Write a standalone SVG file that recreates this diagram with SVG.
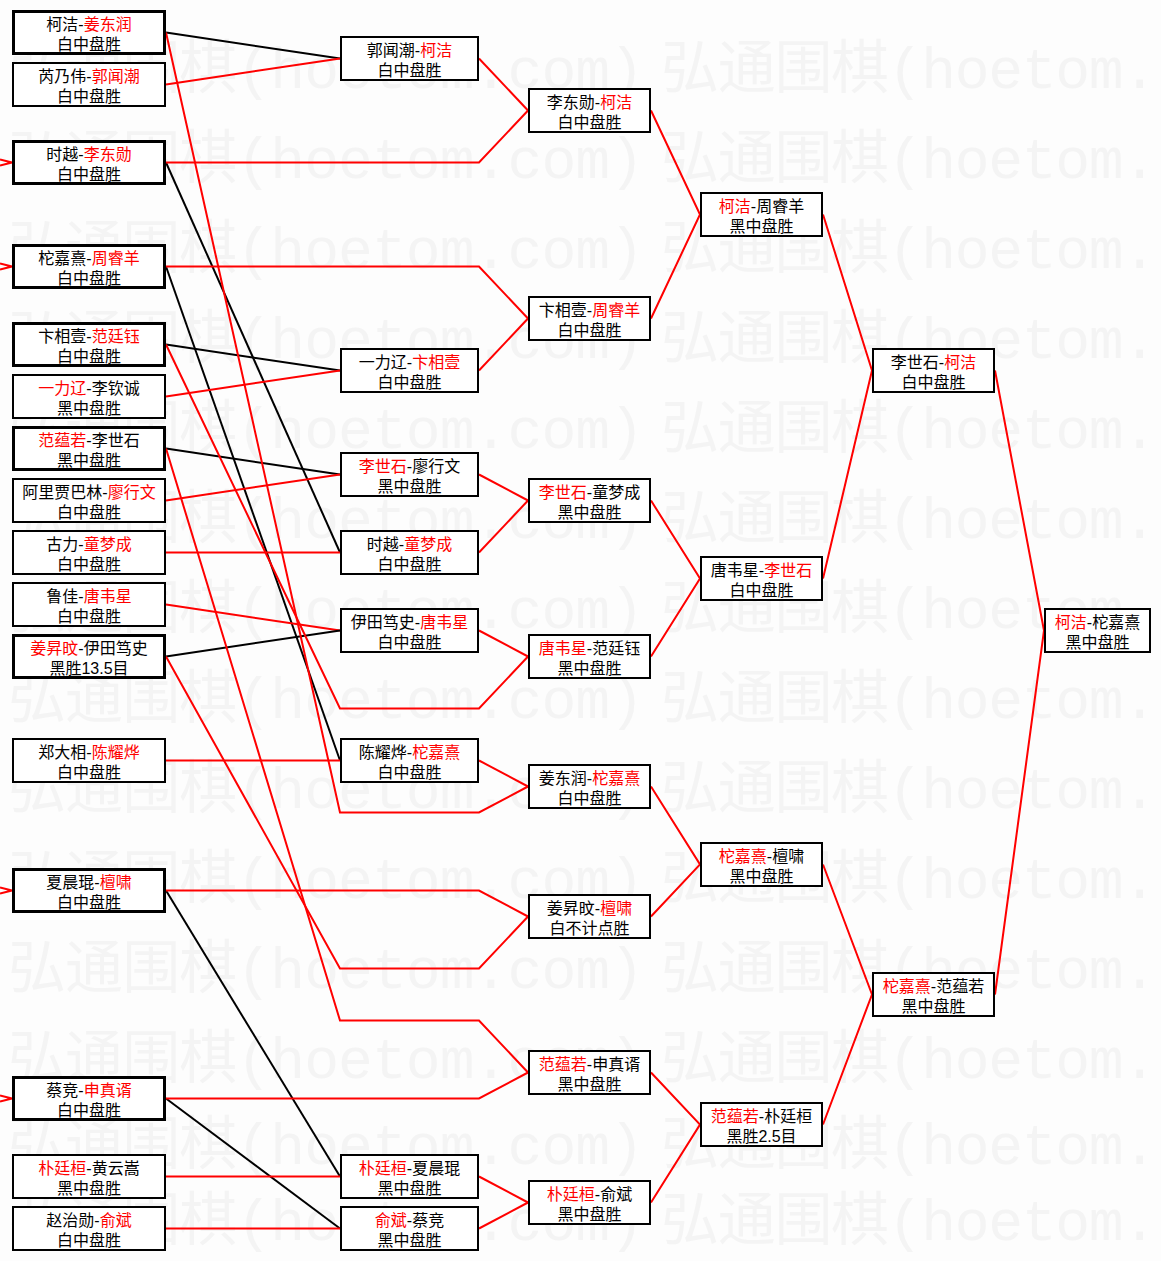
<svg xmlns="http://www.w3.org/2000/svg" width="1161" height="1261" viewBox="0 0 1161 1261">
<style>
.bg{fill:#fdfdfd}
.wm text{font-family:'Liberation Mono','Noto Sans CJK SC',monospace;font-size:58px;fill:#f4f4f4}
.n rect{fill:#fff;stroke:#000;stroke-width:2}
.n.t rect{stroke-width:3}
.n text{font-family:'Liberation Sans','Noto Sans CJK SC',sans-serif;font-size:16px;fill:#000;text-anchor:middle}
.n text tspan.r{fill:#f00}
.c path{fill:none;stroke-width:2}
.c .red{stroke:#f00}
.c .blk{stroke:#000}
</style>
<rect class="bg" x="0" y="0" width="1161" height="1261"/>
<g id="watermark" class="wm">
<text x="8" y="88" textLength="636">弘通围棋(hoetom.com)</text><text x="661" y="88" textLength="496">弘通围棋(hoetom.</text>
<text x="8" y="178" textLength="636">弘通围棋(hoetom.com)</text><text x="661" y="178" textLength="496">弘通围棋(hoetom.</text>
<text x="8" y="268" textLength="636">弘通围棋(hoetom.com)</text><text x="661" y="268" textLength="496">弘通围棋(hoetom.</text>
<text x="8" y="358" textLength="636">弘通围棋(hoetom.com)</text><text x="661" y="358" textLength="496">弘通围棋(hoetom.</text>
<text x="8" y="448" textLength="636">弘通围棋(hoetom.com)</text><text x="661" y="448" textLength="496">弘通围棋(hoetom.</text>
<text x="8" y="538" textLength="636">弘通围棋(hoetom.com)</text><text x="661" y="538" textLength="496">弘通围棋(hoetom.</text>
<text x="8" y="628" textLength="636">弘通围棋(hoetom.com)</text><text x="661" y="628" textLength="496">弘通围棋(hoetom.</text>
<text x="8" y="718" textLength="636">弘通围棋(hoetom.com)</text><text x="661" y="718" textLength="496">弘通围棋(hoetom.</text>
<text x="8" y="808" textLength="636">弘通围棋(hoetom.com)</text><text x="661" y="808" textLength="496">弘通围棋(hoetom.</text>
<text x="8" y="898" textLength="636">弘通围棋(hoetom.com)</text><text x="661" y="898" textLength="496">弘通围棋(hoetom.</text>
<text x="8" y="988" textLength="636">弘通围棋(hoetom.com)</text><text x="661" y="988" textLength="496">弘通围棋(hoetom.</text>
<text x="8" y="1078" textLength="636">弘通围棋(hoetom.com)</text><text x="661" y="1078" textLength="496">弘通围棋(hoetom.</text>
<text x="8" y="1164" textLength="636">弘通围棋(hoetom.com)</text><text x="661" y="1164" textLength="496">弘通围棋(hoetom.</text>
<text x="8" y="1240" textLength="636">弘通围棋(hoetom.com)</text><text x="661" y="1240" textLength="496">弘通围棋(hoetom.</text>
</g>
<g id="connectors" class="c">
<path class="red" d="M0 159.5L12 162.5M0 165.5L12 162.5"/>
<path class="red" d="M0 263.5L12 266.5M0 269.5L12 266.5"/>
<path class="red" d="M0 887.5L12 890.5M0 893.5L12 890.5"/>
<path class="red" d="M0 1095.5L12 1098.5M0 1101.5L12 1098.5"/>
<path class="blk" d="M166 32.5L340 58.5"/>
<path class="red" d="M166 84.5L340 58.5"/>
<path class="blk" d="M166 162.5L340 552.5"/>
<path class="blk" d="M166 266.5L340 760.5"/>
<path class="blk" d="M166 344.5L340 370.5"/>
<path class="red" d="M166 396.5L340 370.5"/>
<path class="blk" d="M166 448.5L340 474.5"/>
<path class="red" d="M166 500.5L340 474.5"/>
<path class="red" d="M166 552.5L340 552.5"/>
<path class="red" d="M166 604.5L340 630.5"/>
<path class="blk" d="M166 656.5L340 630.5"/>
<path class="red" d="M166 760.5L340 760.5"/>
<path class="blk" d="M166 890.5L340 1176.5"/>
<path class="blk" d="M166 1098.5L340 1228.5"/>
<path class="red" d="M166 1176.5L340 1176.5"/>
<path class="red" d="M166 1228.5L340 1228.5"/>
<path class="red" d="M166 32.5L340 812.5L479 812.5L528 786.5"/>
<path class="red" d="M166 162.5L479 162.5L528 110.5"/>
<path class="red" d="M166 266.5L479 266.5L528 318.5"/>
<path class="red" d="M166 344.5L340 708.5L479 708.5L528 656.5"/>
<path class="red" d="M166 448.5L340 1020.5L479 1020.5L528 1072.5"/>
<path class="red" d="M166 656.5L340 968.5L479 968.5L528 916.5"/>
<path class="red" d="M166 890.5L479 890.5L528 916.5"/>
<path class="red" d="M166 1098.5L479 1098.5L528 1072.5"/>
<path class="red" d="M479 58.5L528 110.5"/>
<path class="red" d="M479 370.5L528 318.5"/>
<path class="red" d="M479 474.5L528 500.5"/>
<path class="red" d="M479 552.5L528 500.5"/>
<path class="red" d="M479 630.5L528 656.5"/>
<path class="red" d="M479 760.5L528 786.5"/>
<path class="red" d="M479 1176.5L528 1202.5"/>
<path class="red" d="M479 1228.5L528 1202.5"/>
<path class="red" d="M651 110.5L700 214.5L651 318.5"/>
<path class="red" d="M651 500.5L700 578.5L651 656.5"/>
<path class="red" d="M651 786.5L700 864.5L651 916.5"/>
<path class="red" d="M651 1072.5L700 1124.5L651 1202.5"/>
<path class="red" d="M823 214.5L872 370.5L823 578.5"/>
<path class="red" d="M823 864.5L872 994.5L823 1124.5"/>
<path class="red" d="M995 370.5L1044 630.5L995 994.5"/>
</g>
<g id="r1-1" class="n t"><rect x="13.5" y="11.5" width="151" height="42"/><text x="89" y="30">柯洁-<tspan class="r">姜东润</tspan></text><text x="89" y="50">白中盘胜</text></g>
<g id="r1-2" class="n"><rect x="13" y="63" width="152" height="43"/><text x="89" y="82">芮乃伟-<tspan class="r">郭闻潮</tspan></text><text x="89" y="102">白中盘胜</text></g>
<g id="r1-3" class="n t"><rect x="13.5" y="141.5" width="151" height="42"/><text x="89" y="160">时越-<tspan class="r">李东勋</tspan></text><text x="89" y="180">白中盘胜</text></g>
<g id="r1-4" class="n t"><rect x="13.5" y="245.5" width="151" height="42"/><text x="89" y="264">柁嘉熹-<tspan class="r">周睿羊</tspan></text><text x="89" y="284">白中盘胜</text></g>
<g id="r1-5" class="n t"><rect x="13.5" y="323.5" width="151" height="42"/><text x="89" y="342">卞相壹-<tspan class="r">范廷钰</tspan></text><text x="89" y="362">白中盘胜</text></g>
<g id="r1-6" class="n"><rect x="13" y="375" width="152" height="43"/><text x="89" y="394"><tspan class="r">一力辽</tspan>-李钦诚</text><text x="89" y="414">黑中盘胜</text></g>
<g id="r1-7" class="n t"><rect x="13.5" y="427.5" width="151" height="42"/><text x="89" y="446"><tspan class="r">范蕴若</tspan>-李世石</text><text x="89" y="466">黑中盘胜</text></g>
<g id="r1-8" class="n"><rect x="13" y="479" width="152" height="43"/><text x="89" y="498">阿里贾巴林-<tspan class="r">廖行文</tspan></text><text x="89" y="518">白中盘胜</text></g>
<g id="r1-9" class="n"><rect x="13" y="531" width="152" height="43"/><text x="89" y="550">古力-<tspan class="r">童梦成</tspan></text><text x="89" y="570">白中盘胜</text></g>
<g id="r1-10" class="n"><rect x="13" y="583" width="152" height="43"/><text x="89" y="602">鲁佳-<tspan class="r">唐韦星</tspan></text><text x="89" y="622">白中盘胜</text></g>
<g id="r1-11" class="n t"><rect x="13.5" y="635.5" width="151" height="42"/><text x="89" y="654"><tspan class="r">姜昇旼</tspan>-伊田笃史</text><text x="89" y="674">黑胜13.5目</text></g>
<g id="r1-12" class="n"><rect x="13" y="739" width="152" height="43"/><text x="89" y="758">郑大相-<tspan class="r">陈耀烨</tspan></text><text x="89" y="778">白中盘胜</text></g>
<g id="r1-13" class="n t"><rect x="13.5" y="869.5" width="151" height="42"/><text x="89" y="888">夏晨琨-<tspan class="r">檀啸</tspan></text><text x="89" y="908">白中盘胜</text></g>
<g id="r1-14" class="n t"><rect x="13.5" y="1077.5" width="151" height="42"/><text x="89" y="1096">蔡竞-<tspan class="r">申真谞</tspan></text><text x="89" y="1116">白中盘胜</text></g>
<g id="r1-15" class="n"><rect x="13" y="1155" width="152" height="43"/><text x="89" y="1174"><tspan class="r">朴廷桓</tspan>-黄云嵩</text><text x="89" y="1194">黑中盘胜</text></g>
<g id="r1-16" class="n"><rect x="13" y="1207" width="152" height="43"/><text x="89" y="1226">赵治勋-<tspan class="r">俞斌</tspan></text><text x="89" y="1246">白中盘胜</text></g>
<g id="r2-1" class="n"><rect x="341" y="37" width="137" height="43"/><text x="409.5" y="56">郭闻潮-<tspan class="r">柯洁</tspan></text><text x="409.5" y="76">白中盘胜</text></g>
<g id="r2-2" class="n"><rect x="341" y="349" width="137" height="43"/><text x="409.5" y="368">一力辽-<tspan class="r">卞相壹</tspan></text><text x="409.5" y="388">白中盘胜</text></g>
<g id="r2-3" class="n"><rect x="341" y="453" width="137" height="43"/><text x="409.5" y="472"><tspan class="r">李世石</tspan>-廖行文</text><text x="409.5" y="492">黑中盘胜</text></g>
<g id="r2-4" class="n"><rect x="341" y="531" width="137" height="43"/><text x="409.5" y="550">时越-<tspan class="r">童梦成</tspan></text><text x="409.5" y="570">白中盘胜</text></g>
<g id="r2-5" class="n"><rect x="341" y="609" width="137" height="43"/><text x="409.5" y="628">伊田笃史-<tspan class="r">唐韦星</tspan></text><text x="409.5" y="648">白中盘胜</text></g>
<g id="r2-6" class="n"><rect x="341" y="739" width="137" height="43"/><text x="409.5" y="758">陈耀烨-<tspan class="r">柁嘉熹</tspan></text><text x="409.5" y="778">白中盘胜</text></g>
<g id="r2-7" class="n"><rect x="341" y="1155" width="137" height="43"/><text x="409.5" y="1174"><tspan class="r">朴廷桓</tspan>-夏晨琨</text><text x="409.5" y="1194">黑中盘胜</text></g>
<g id="r2-8" class="n"><rect x="341" y="1207" width="137" height="43"/><text x="409.5" y="1226"><tspan class="r">俞斌</tspan>-蔡竞</text><text x="409.5" y="1246">黑中盘胜</text></g>
<g id="r3-1" class="n"><rect x="529" y="89" width="121" height="43"/><text x="589.5" y="108">李东勋-<tspan class="r">柯洁</tspan></text><text x="589.5" y="128">白中盘胜</text></g>
<g id="r3-2" class="n"><rect x="529" y="297" width="121" height="43"/><text x="589.5" y="316">卞相壹-<tspan class="r">周睿羊</tspan></text><text x="589.5" y="336">白中盘胜</text></g>
<g id="r3-3" class="n"><rect x="529" y="479" width="121" height="43"/><text x="589.5" y="498"><tspan class="r">李世石</tspan>-童梦成</text><text x="589.5" y="518">黑中盘胜</text></g>
<g id="r3-4" class="n"><rect x="529" y="635" width="121" height="43"/><text x="589.5" y="654"><tspan class="r">唐韦星</tspan>-范廷钰</text><text x="589.5" y="674">黑中盘胜</text></g>
<g id="r3-5" class="n"><rect x="529" y="765" width="121" height="43"/><text x="589.5" y="784">姜东润-<tspan class="r">柁嘉熹</tspan></text><text x="589.5" y="804">白中盘胜</text></g>
<g id="r3-6" class="n"><rect x="529" y="895" width="121" height="43"/><text x="589.5" y="914">姜昇旼-<tspan class="r">檀啸</tspan></text><text x="589.5" y="934">白不计点胜</text></g>
<g id="r3-7" class="n"><rect x="529" y="1051" width="121" height="43"/><text x="589.5" y="1070"><tspan class="r">范蕴若</tspan>-申真谞</text><text x="589.5" y="1090">黑中盘胜</text></g>
<g id="r3-8" class="n"><rect x="529" y="1181" width="121" height="43"/><text x="589.5" y="1200"><tspan class="r">朴廷桓</tspan>-俞斌</text><text x="589.5" y="1220">黑中盘胜</text></g>
<g id="r4-1" class="n"><rect x="701" y="193" width="121" height="43"/><text x="761.5" y="212"><tspan class="r">柯洁</tspan>-周睿羊</text><text x="761.5" y="232">黑中盘胜</text></g>
<g id="r4-2" class="n"><rect x="701" y="557" width="121" height="43"/><text x="761.5" y="576">唐韦星-<tspan class="r">李世石</tspan></text><text x="761.5" y="596">白中盘胜</text></g>
<g id="r4-3" class="n"><rect x="701" y="843" width="121" height="43"/><text x="761.5" y="862"><tspan class="r">柁嘉熹</tspan>-檀啸</text><text x="761.5" y="882">黑中盘胜</text></g>
<g id="r4-4" class="n"><rect x="701" y="1103" width="121" height="43"/><text x="761.5" y="1122"><tspan class="r">范蕴若</tspan>-朴廷桓</text><text x="761.5" y="1142">黑胜2.5目</text></g>
<g id="r5-1" class="n"><rect x="873" y="349" width="121" height="43"/><text x="933.5" y="368">李世石-<tspan class="r">柯洁</tspan></text><text x="933.5" y="388">白中盘胜</text></g>
<g id="r5-2" class="n"><rect x="873" y="973" width="121" height="43"/><text x="933.5" y="992"><tspan class="r">柁嘉熹</tspan>-范蕴若</text><text x="933.5" y="1012">黑中盘胜</text></g>
<g id="final" class="n"><rect x="1045" y="609" width="105" height="43"/><text x="1097.5" y="628"><tspan class="r">柯洁</tspan>-柁嘉熹</text><text x="1097.5" y="648">黑中盘胜</text></g>
</svg>
